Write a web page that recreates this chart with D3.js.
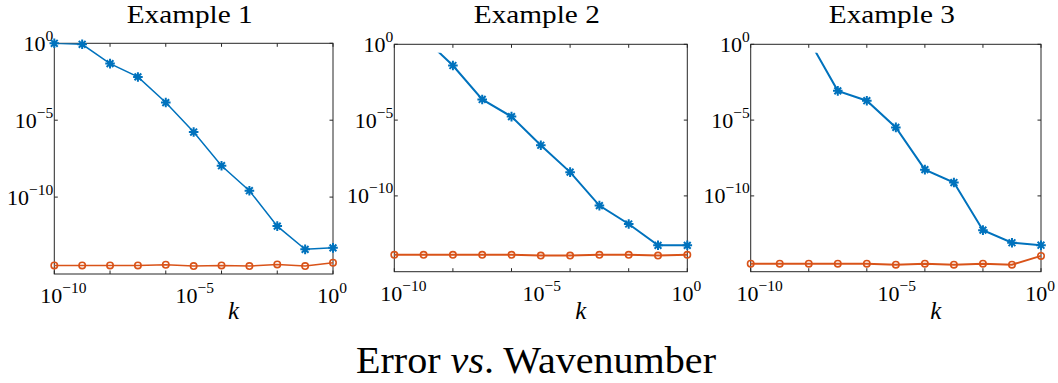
<!DOCTYPE html>
<html>
<head>
<meta charset="utf-8">
<script src="https://cdn.jsdelivr.net/npm/d3@7"></script>
<style>
  body { margin: 0; background: #fff; }
  text { font-family: "Liberation Serif", "DejaVu Serif", serif; fill: #000; }
</style>
</head>
<body>
<script>
// wavenumbers (one point per decade)
const ks = [1e-10, 1e-9, 1e-8, 1e-7, 1e-6, 1e-5, 1e-4, 1e-3, 1e-2, 1e-1, 1e0];

const titles = ['Example 1', 'Example 2', 'Example 3'];

// blue (asterisk) series
const blue1 = [1, 0.86, 4.8e-2, 6.5e-3, 1.4e-4, 1.7e-6, 1.1e-8, 2.6e-10, 1.3e-12, 4e-14, 5e-14];
const blue2 = [30, 2.7, 4e-2, 2.3e-4, 1.7e-5, 2.2e-7, 3.7e-9, 2.3e-11, 1.4e-12, 5.5e-14, 5.5e-14];
const blue3 = [100, 20, 2, 8.5e-4, 1.9e-4, 3.3e-6, 5.4e-9, 7.6e-10, 5.5e-13, 8.1e-14, 5.6e-14];

// orange (circle) series
const orange1 = [3.6e-15, 3.6e-15, 3.6e-15, 3.6e-15, 4e-15, 3.3e-15, 3.6e-15, 3.3e-15, 4.2e-15, 3.3e-15, 5.4e-15];
const orange2 = [1.3e-14, 1.3e-14, 1.3e-14, 1.3e-14, 1.3e-14, 1.15e-14, 1.15e-14, 1.3e-14, 1.3e-14, 1.15e-14, 1.3e-14];
const orange3 = [3.4e-15, 3.4e-15, 3.4e-15, 3.4e-15, 3.4e-15, 2.9e-15, 3.4e-15, 2.9e-15, 3.4e-15, 2.9e-15, 1.1e-14];

const blueSeries = [blue1, blue2, blue3];
const orangeSeries = [orange1, orange2, orange3];

const xTicks = [1e-10, 1e-8, 1e-6, 1e-4, 1e-2, 1e0];
const xLabels = [[1e-10, '10', '−10'], [1e-5, '10', '−5'], [1e0, '10', '0']];
const yTicks = [1e0, 1e-5, 1e-10];
const yLabels = [[1e0, '10', '0'], [1e-5, '10', '−5'], [1e-10, '10', '−10']];

const BLUE = '#0072BD';
const ORANGE = '#D95319';
const AX = '#262626';

const width = 1058, height = 383;

// plot boxes (pixels) per panel
const boxes = [
  { x0: 54.3, x1: 333, y0: 43.3, y1: 274, lw: 1.5, clipTop: 0 },
  { x0: 394.3, x1: 687.3, y0: 44.3, y1: 271.7, lw: 2, clipTop: 8.4 },
  { x0: 750.7, x1: 1041, y0: 44.3, y1: 271.7, lw: 2, clipTop: 8.4 }
];
// horizontal nudges of the x tick labels, as placed in the original
const xLabelDx = [9, 1, -1];

const svg = d3.select('body').append('svg')
  .attr('width', width)
  .attr('height', height);

// MATLAB style '*' marker: a plus and a cross
function starPath(r) {
  const d = r * Math.SQRT1_2;
  return `M${-r},0L${r},0M0,${-r}L0,${r}M${-d},${-d}L${d},${d}M${-d},${d}L${d},${-d}`;
}

boxes.forEach((b, i) => {
  const x = d3.scaleLog().domain([1e-10, 1]).range([b.x0, b.x1]);
  const y = d3.scaleLog().domain([1e-15, 1]).range([b.y1, b.y0]);
  const g = svg.append('g');

  const clipId = 'clip' + i;
  g.append('clipPath').attr('id', clipId)
    .append('rect')
    .attr('x', b.x0).attr('y', b.y0 + b.clipTop)
    .attr('width', b.x1 - b.x0).attr('height', b.y1 - b.y0 - b.clipTop);

  // box
  g.append('rect')
    .attr('x', b.x0).attr('y', b.y0)
    .attr('width', b.x1 - b.x0).attr('height', b.y1 - b.y0)
    .attr('fill', 'none').attr('stroke', AX).attr('stroke-width', 1);

  // inward ticks
  xTicks.forEach(t => {
    g.append('line').attr('x1', x(t)).attr('x2', x(t))
      .attr('y1', b.y1).attr('y2', b.y1 - 3.5).attr('stroke', AX);
    g.append('line').attr('x1', x(t)).attr('x2', x(t))
      .attr('y1', b.y0).attr('y2', b.y0 + 3.5).attr('stroke', AX);
  });
  yTicks.forEach(t => {
    g.append('line').attr('x1', b.x0).attr('x2', b.x0 + 3.5)
      .attr('y1', y(t)).attr('y2', y(t)).attr('stroke', AX);
    g.append('line').attr('x1', b.x1).attr('x2', b.x1 - 3.5)
      .attr('y1', y(t)).attr('y2', y(t)).attr('stroke', AX);
  });

  // tick labels
  xLabels.forEach(([v, base, sup], j) => {
    const t = g.append('text')
      .attr('x', x(v) + xLabelDx[j]).attr('y', b.y1 + 29)
      .attr('text-anchor', 'middle')
      .style('font-size', '22px');
    t.append('tspan').text(base);
    t.append('tspan').attr('dy', -10).style('font-size', '15.5px').text(sup);
  });
  yLabels.forEach(([v, base, sup]) => {
    const t = g.append('text')
      .attr('x', b.x0 - 1).attr('y', y(v) + 7.5)
      .attr('text-anchor', 'end')
      .style('font-size', '22px');
    t.append('tspan').text(base);
    t.append('tspan').attr('dy', -10).style('font-size', '15.5px').text(sup);
  });

  // title and x label
  g.append('text')
    .attr('x', (b.x0 + b.x1) / 2 - 4).attr('y', 23)
    .attr('text-anchor', 'middle')
    .attr('textLength', 126).attr('lengthAdjust', 'spacingAndGlyphs')
    .style('font-size', '25.5px')
    .text(titles[i]);
  g.append('text')
    .attr('x', (b.x0 + b.x1) / 2 + 40).attr('y', 319)
    .attr('text-anchor', 'middle')
    .style('font-size', '25px').style('font-style', 'italic')
    .text('k');

  const line = d3.line().x((d, j) => x(ks[j])).y(d => y(d));
  const inside = v => v <= 1.0001 && v >= 1e-15;

  // blue series
  g.append('path')
    .attr('d', line(blueSeries[i]))
    .attr('fill', 'none').attr('stroke', BLUE).attr('stroke-width', b.lw)
    .attr('clip-path', `url(#${clipId})`);
  g.selectAll('.star')
    .data(blueSeries[i].map((v, j) => [ks[j], v]).filter(d => inside(d[1])))
    .join('path')
    .attr('class', 'star')
    .attr('transform', d => `translate(${x(d[0])},${y(d[1])})`)
    .attr('d', starPath(4.8))
    .attr('fill', 'none').attr('stroke', BLUE).attr('stroke-width', 2);

  // orange series
  g.append('path')
    .attr('d', line(orangeSeries[i]))
    .attr('fill', 'none').attr('stroke', ORANGE).attr('stroke-width', b.lw);
  g.selectAll('.circ')
    .data(orangeSeries[i].map((v, j) => [ks[j], v]))
    .join('circle')
    .attr('class', 'circ')
    .attr('cx', d => x(d[0])).attr('cy', d => y(d[1]))
    .attr('r', 3.2)
    .attr('fill', 'none').attr('stroke', ORANGE).attr('stroke-width', 1.6);
});

// overall caption
const cap = svg.append('text')
  .attr('x', 536).attr('y', 373)
  .attr('text-anchor', 'middle')
  .attr('textLength', 360).attr('lengthAdjust', 'spacingAndGlyphs')
  .style('font-size', '37px');
cap.append('tspan').text('Error ');
cap.append('tspan').style('font-style', 'italic').text('vs');
cap.append('tspan').text('. Wavenumber');
</script>
</body>
</html>
